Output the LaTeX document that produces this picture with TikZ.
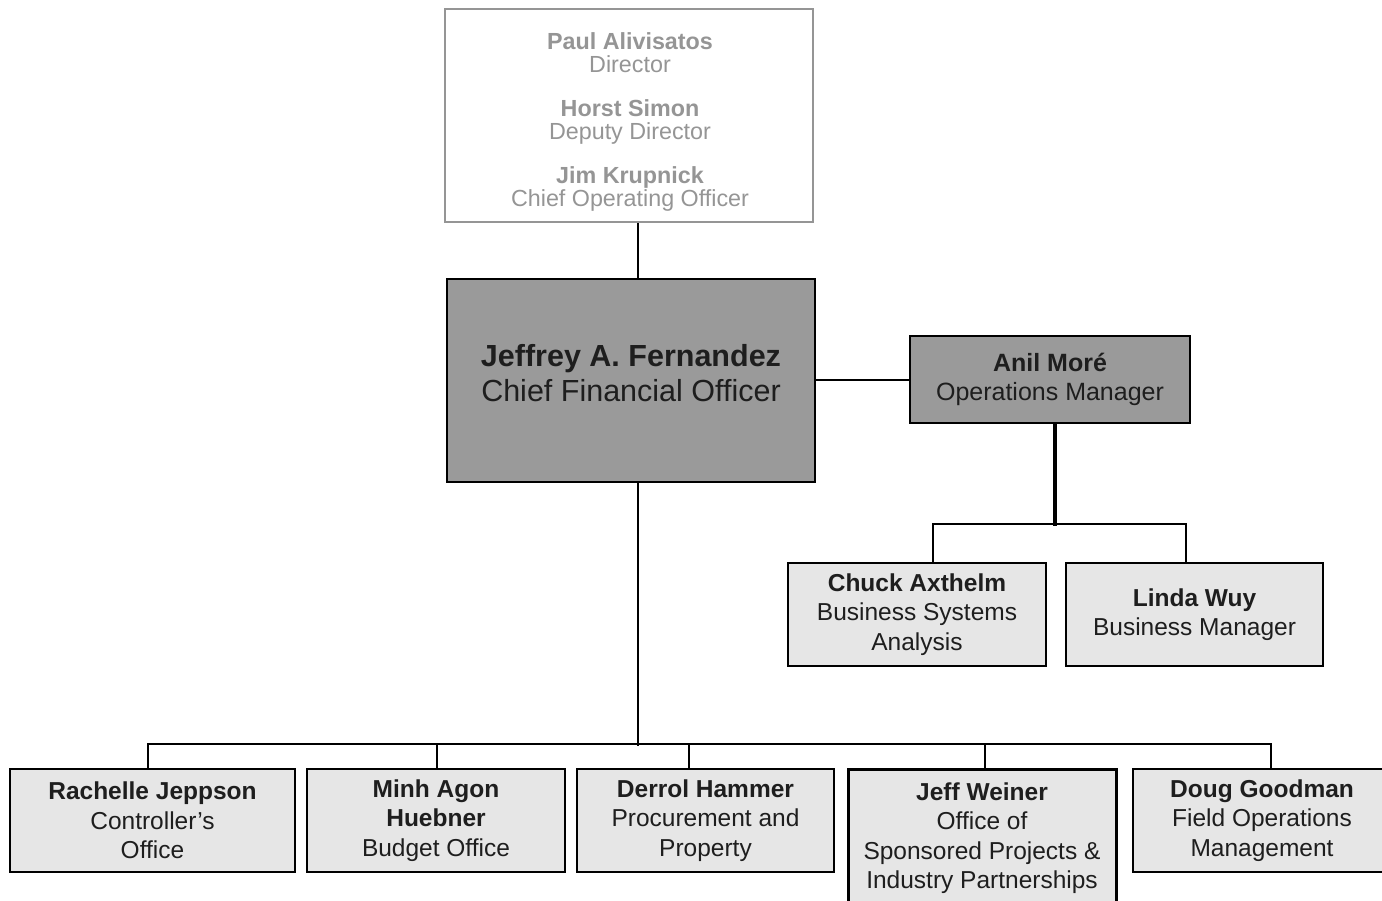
\documentclass[tikz,border=0pt]{standalone}
\usepackage{fontspec}
\setmainfont{Liberation Sans}
\definecolor{midgray}{HTML}{9A9A9A}
\definecolor{lightgray}{HTML}{E6E6E6}
\definecolor{topgray}{HTML}{959595}
\definecolor{ink}{HTML}{1E1E1E}
\tikzset{
  boxbase/.style={rectangle, inner sep=0pt, align=center, text=ink},
  topbox/.style={boxbase, draw=topgray, line width=2pt, fill=white},
  toptextstyle/.style={boxbase, text=topgray, font=\fontsize{23.3}{22.3}\selectfont},
  darkbox/.style={boxbase, draw=black, line width=2.4pt, fill=midgray},
  lightbox/.style={boxbase, draw=black, line width=2.4pt, fill=lightgray,
    font=\fontsize{24.5}{29.5}\selectfont},
  conn/.style={draw=black, line width=2pt},
  thickconn/.style={draw=black, line width=3.2pt},
}
\begin{document}
\begin{tikzpicture}[x=1pt,y=-1pt]
\clip (0,0) rectangle (1382,900);
\fill[white] (0,0) rectangle (1382,900);

% top box
\node[topbox, minimum width=368pt, minimum height=213pt] (top) at (629,115.5) {};
\node[toptextstyle] (toptext) at (630,122)
  {\textbf{Paul Alivisatos}\\Director\\[22.3pt]\textbf{Horst Simon}\\Deputy Director\\[22.3pt]\textbf{Jim Krupnick}\\Chief Operating Officer};

% CFO
\node[darkbox, minimum width=368pt, minimum height=203pt] (cfo) at (631,380.5) {};
\node[boxbase, font=\fontsize{30.5}{35}\selectfont] (cfotext) at (631,373)
  {\textbf{Jeffrey A. Fernandez}\\Chief Financial Officer};

% Operations manager
\node[darkbox, minimum width=280pt, minimum height=87pt, font=\fontsize{25}{29.5}\selectfont] (anil) at (1050,379.5)
  {\textbf{Anil Moré}\\Operations Manager};

% Second tier
\node[lightbox, minimum width=258pt, minimum height=103pt] (chuck) at (917,614.5)
  {\textbf{Chuck Axthelm}\\Business Systems\\Analysis};
\node[lightbox, minimum width=257pt, minimum height=103pt] (linda) at (1194.5,614.5)
  {\textbf{Linda Wuy}\\Business Manager};

% Bottom tier
\node[lightbox, minimum width=285pt, minimum height=103pt] (rachelle) at (152.5,820.5)
  {\textbf{Rachelle Jeppson}\\Controller’s\\Office};
\node[lightbox, minimum width=258pt, minimum height=103pt] (minh) at (436,820.5)
  {\textbf{Minh Agon}\\\textbf{Huebner}\\Budget Office};
\node[lightbox, minimum width=257pt, minimum height=103pt, text depth=5pt] (derrol) at (705.5,820.5)
  {\textbf{Derrol Hammer}\\Procurement and\\Property};
\node[lightbox, line width=3pt, minimum width=268pt, minimum height=138pt] (jeff) at (982,838)
  {\textbf{Jeff Weiner}\\Office of\\Sponsored Projects \&\\Industry Partnerships};
\node[lightbox, minimum width=258pt, minimum height=103pt] (doug) at (1262,820.5)
  {\textbf{Doug Goodman}\\Field Operations\\Management};

% Connectors
\draw[conn] ([xshift=9pt]top.south) -- ([xshift=7pt]cfo.north);
\draw[conn] (cfo.east |- anil.west) -- (anil.west);
\draw[thickconn] ([xshift=5pt]anil.south) -- ++(0,102) coordinate (opsjoin);
\draw[conn] ([xshift=16pt]chuck.north) -- ++(0,-38) -| ([xshift=-8.5pt]linda.north);

\draw[conn] ([xshift=7pt]cfo.south) -- ++(0,263) coordinate (cfojoin);
\draw[conn] ([xshift=-4.5pt]rachelle.north) -- ++(0,-24) -| ([xshift=9pt]doug.north);
\draw[conn] ([xshift=1pt]minh.north) -- ++(0,-24);
\draw[conn] ([xshift=-16.5pt]derrol.north) -- ++(0,-24);
\draw[conn] ([xshift=3pt]jeff.north) -- ++(0,-24);
\end{tikzpicture}
\end{document}
